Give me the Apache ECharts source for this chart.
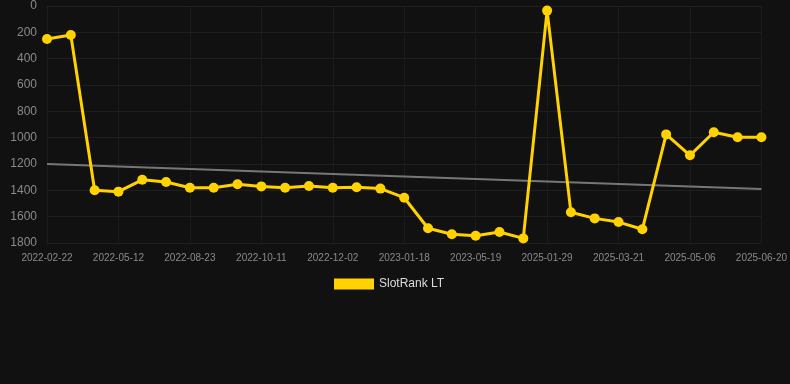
<!DOCTYPE html>
<html>
<head>
<meta charset="utf-8">
<script src="https://cdn.jsdelivr.net/npm/echarts@6/dist/echarts.min.js"></script>
<style>
html,body{margin:0;padding:0;background:#111111;}
#chart{width:790px;height:384px;}
</style>
</head>
<body>
<div id="chart"></div>
<script>
// Category labels (only every third date is printed on the axis)
const categories = [
  '2022-02-22','','','2022-05-12','','','2022-08-23','','','2022-10-11','',
  '','2022-12-02','','','2023-01-18','','','2023-05-19','','',
  '2025-01-29','','','2025-03-21','','','2025-05-06','','','2025-06-20'
];
const rankValues = [
  250, 220, 1400, 1410, 1320, 1337, 1380, 1380, 1354, 1370, 1380,
  1367, 1380, 1377, 1387, 1456, 1688, 1734, 1745, 1716, 1765,
  35, 1567, 1613, 1641, 1696, 975, 1134, 959, 997, 997
];
const trendValues = [1200, 1390];
const yTicks = { min: 0, max: 1800, interval: 200 };

const chart = echarts.init(document.getElementById('chart'), null, {renderer: 'canvas'});
chart.setOption({
  backgroundColor: '#111111',
  animation: false,
  grid: { left: 47, right: 28, top: 6, bottom: 141 },
  legend: {
    left: 329, top: 273,
    itemWidth: 40, itemHeight: 11, itemGap: 10,
    icon: 'rect',
    textStyle: { color: '#dddddd', fontSize: 12, fontFamily: 'Liberation Sans, Arial, sans-serif' },
    data: ['SlotRank LT']
  },
  xAxis: {
    type: 'category',
    data: categories,
    boundaryGap: false,
    axisLine: { show: true, lineStyle: { color: '#1f1f1f' } },
    axisTick: { show: true, interval: 2, lineStyle: { color: '#1f1f1f' } },
    axisLabel: { interval: 2, color: '#8a8a8a', fontSize: 10, margin: 10,
      fontFamily: 'Liberation Sans, Arial, sans-serif' },
    splitLine: { show: true, interval: 2, lineStyle: { color: '#1c1c1c' } }
  },
  yAxis: {
    type: 'value',
    inverse: true,
    min: yTicks.min, max: yTicks.max, interval: yTicks.interval,
    axisLine: { show: false },
    axisTick: { show: false },
    axisLabel: { color: '#8a8a8a', fontSize: 12, margin: 10,
      formatter: function (v) { return String(v); },
      fontFamily: 'Liberation Sans, Arial, sans-serif' },
    splitLine: { show: true, lineStyle: { color: '#1f1f1f' } }
  },
  series: [
    {
      name: 'Trend',
      type: 'line',
      data: [[0, trendValues[0]], [categories.length - 1, trendValues[1]]],
      symbol: 'none',
      lineStyle: { color: '#777777', width: 2 },
      silent: true,
      z: 1
    },
    {
      name: 'SlotRank LT',
      type: 'line',
      data: rankValues,
      symbol: 'circle',
      symbolSize: 10,
      itemStyle: { color: '#FFD200' },
      lineStyle: { color: '#FFD200', width: 3 },
      z: 3
    }
  ]
});
</script>
</body>
</html>
